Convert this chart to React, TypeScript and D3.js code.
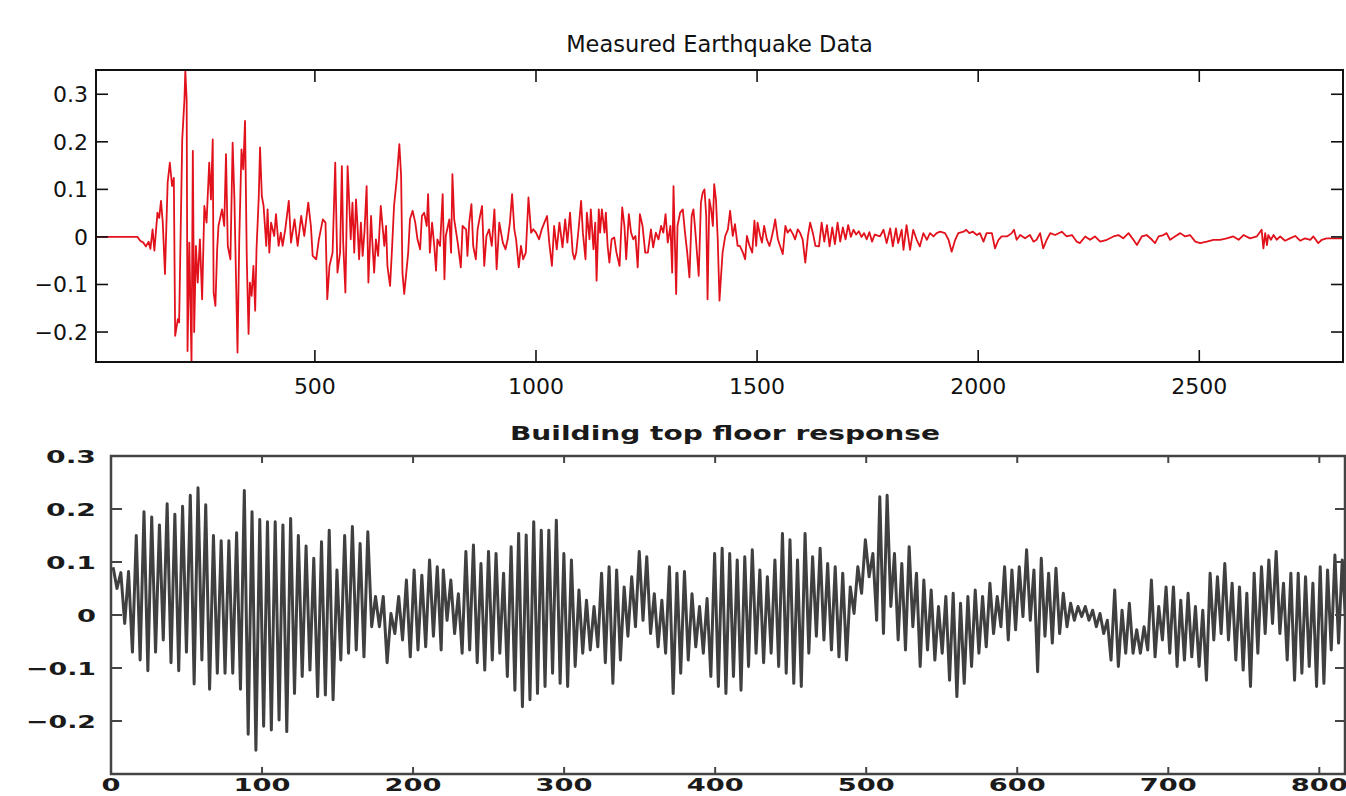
import * as d3 from 'd3';

// Measured ground acceleration, turning points: [sample, value]
const quakeOnset: [number, number][] = [
  [5, 0], [99, 0], [105, -0.008], [112, -0.012], [118, -0.02], [124, -0.01], [128, -0.025], [133, 0.016],
  [137, -0.029], [144, 0.051], [148, 0.04], [152, 0.076], [156, 0.03], [161, -0.078], [167, 0.114],
  [172, 0.156], [177, 0.107], [181, 0.124], [184, -0.208], [190, -0.173], [193, -0.18], [200, 0.205],
  [205, 0.289], [207, 0.349], [210, 0.289], [212, -0.24], [216, -0.012], [221, -0.264], [224, 0.181],
  [227, -0.2], [231, -0.019], [235, -0.096], [240, -0.005], [245, -0.131],
];
const quakeStrong: [number, number][] = [
  [250, 0.065], [255, 0.03], [261, 0.156], [265, 0.079], [269, 0.205], [271, -0.117], [275, -0.145],
  [279, -0.026], [282, 0.023], [290, 0.058], [295, 0.023], [299, 0.174], [303, -0.019], [309, -0.047],
  [314, 0.198], [318, 0.079], [322, -0.103], [325, -0.243], [329, -0.005], [334, 0.184], [338, 0.142],
  [342, 0.244], [346, -0.047], [350, -0.204], [353, -0.096], [357, -0.124], [361, -0.061], [365, -0.155],
  [368, -0.026], [373, 0.083], [376, 0.188], [380, 0.086], [384, 0.065], [390, -0.019], [393, 0.058],
  [397, -0.033], [401, 0.03], [408, 0.002], [412, 0.048], [418, -0.019], [423, 0.009], [427, -0.019],
  [433, 0.016], [441, 0.076], [446, -0.012], [454, 0.037], [461, -0.019], [469, 0.044], [476, 0.002],
  [485, 0.072], [491, 0.023], [495, -0.04], [503, -0.047], [509, -0.005], [518, 0.037], [524, 0.03],
  [528, -0.131], [533, -0.061], [540, -0.033], [546, 0.156],
];
const quakeMid: [number, number][] = [
  [551, -0.075], [557, -0.033], [561, 0.149], [564, -0.012], [569, -0.117], [574, 0.149], [578, 0.065],
  [581, -0.005], [585, 0.072], [589, -0.033], [593, 0.079], [596, 0.03], [600, -0.047], [604, 0.03],
  [608, -0.04], [612, 0.009], [617, 0.107], [621, -0.096], [627, 0.044], [630, -0.012], [634, -0.075],
  [638, -0.005], [643, -0.04], [649, 0.065], [653, 0.023], [657, -0.019], [661, 0.023], [664, -0.061],
  [670, -0.103], [674, -0.033], [679, 0.065], [685, 0.121], [691, 0.195], [695, 0.128], [698, -0.075],
  [702, -0.12], [706, -0.082], [711, -0.033], [715, 0.037], [721, 0.055], [727, 0.03], [732, -0.005],
  [738, -0.026], [742, 0.044], [747, 0.051], [753, 0.023], [756, 0.09], [760, -0.033], [765, 0.03],
  [770, -0.019], [774, -0.071], [777, -0.005], [783, -0.019], [789, 0.09], [793, -0.089], [796, 0.002],
  [804, 0.037], [808, -0.033], [811, 0.132], [815, 0.037], [823, -0.012], [830, -0.064], [834, 0.023],
  [842, 0.016], [845, -0.04], [849, 0.03], [854, 0.069], [858, -0.019], [864, -0.047], [868, 0.016],
  [872, 0.037], [878, 0.065], [883, -0.061], [888, 0.002], [894, 0.016], [900, -0.019], [906, 0.058],
  [911, -0.068], [917, 0.03], [925, -0.012], [931, -0.026], [936, -0.005], [941, 0.03], [946, 0.09],
  [951, 0.016], [955, -0.005], [961, -0.064], [966, -0.019], [971, -0.047], [977, -0.033], [983, 0.083],
  [989, 0.009], [994, 0.016], [1000, 0.009], [1007, -0.005], [1013, 0.016], [1019, 0.03], [1025, 0.044],
  [1030, -0.012], [1036, -0.061], [1041, 0.023], [1047, -0.026], [1053, 0.03], [1060, -0.022],
  [1066, 0.037], [1071, -0.012], [1077, 0.051], [1083, -0.033], [1087, -0.047],
];
const quakeLate: [number, number][] = [
  [1091, -0.033], [1097, 0.023], [1102, 0.076], [1106, 0.009], [1112, -0.047], [1115, 0.051],
  [1121, -0.005], [1124, 0.058], [1130, -0.026], [1134, 0.03], [1137, -0.092], [1142, 0.058],
  [1145, 0.009], [1149, 0.058], [1155, 0.009], [1158, 0.051], [1162, -0.019], [1166, -0.054],
  [1171, -0.005], [1177, -0.001], [1182, -0.033], [1189, -0.061], [1195, 0.062], [1200, 0.023],
  [1204, -0.047], [1210, 0.048], [1215, 0.009], [1220, -0.005], [1225, 0.002], [1230, -0.064],
  [1235, 0.048], [1241, 0.023], [1247, -0.033], [1253, -0.033], [1260, 0.016], [1265, -0.022],
  [1271, 0.009], [1277, -0.005], [1283, 0.023], [1288, 0.009], [1293, 0.048], [1298, -0.012],
  [1304, 0.023], [1308, -0.075], [1311, 0.107], [1317, -0.12], [1320, 0.023], [1326, 0.051],
  [1332, 0.058], [1337, 0.009], [1342, -0.033], [1347, -0.085], [1352, 0.044], [1356, 0.058],
  [1360, 0.016], [1364, -0.033], [1368, -0.082], [1373, 0.072], [1377, 0.093], [1381, 0.1],
  [1385, 0.044], [1388, -0.131], [1392, 0.079], [1396, 0.058], [1400, 0.023], [1403, 0.111],
  [1407, 0.079], [1411, -0.005], [1415, -0.134], [1418, -0.089], [1422, -0.033], [1428, 0.002],
  [1434, 0.016], [1439, 0.055], [1445, 0.002], [1450, 0.027], [1456, -0.019], [1461, -0.019],
  [1468, -0.033], [1473, -0.047], [1477, 0.002], [1483, -0.019], [1489, -0.033], [1494, 0.034],
  [1498, -0.019], [1501, 0.03], [1507, 0.002], [1511, -0.012], [1516, 0.023], [1522, -0.005],
  [1528, -0.019], [1532, -0.005], [1537, 0.016], [1541, 0.037], [1547, -0.005], [1552, -0.019],
  [1558, -0.036], [1564, 0.023], [1569, 0.009], [1575, 0.016], [1581, 0.006], [1586, -0.005],
  [1592, 0.016], [1597, 0.009], [1603, -0.005], [1609, -0.054], [1615, 0.002], [1620, 0.03],
  [1626, 0.009], [1632, -0.019],
];
const quakeTail: [number, number][] = [
  [1640, -0.02], [1646, 0.03], [1652, -0.01], [1658, 0.025], [1664, -0.02], [1670, 0.02], [1676, -0.015],
  [1682, 0.03], [1688, -0.01], [1694, 0.02], [1700, -0.005], [1706, 0.025], [1712, 0], [1718, 0.015],
  [1724, 0.005], [1730, 0.012], [1736, 0], [1742, 0.008], [1748, -0.005], [1754, 0.01], [1760, -0.01],
  [1766, 0.005], [1778, 0.001], [1786, 0.015], [1793, -0.013], [1801, 0.018], [1807, -0.02], [1814, 0.018],
  [1819, -0.013], [1827, 0.015], [1831, -0.027], [1838, 0.025], [1846, -0.027], [1853, 0.015],
  [1861, -0.006], [1868, -0.02], [1876, 0.008], [1884, -0.006], [1891, 0.008], [1899, 0.001],
  [1906, 0.008], [1914, 0.011], [1925, 0.008], [1933, -0.006], [1940, -0.031], [1948, -0.006],
  [1955, 0.008], [1967, 0.011], [1973, 0.015], [1980, 0.008], [1988, 0.011], [1997, 0.004], [2004, 0.008],
  [2012, -0.01], [2019, 0.008], [2031, 0.008], [2038, -0.024], [2046, -0.006], [2053, 0.001],
  [2065, 0.001], [2076, 0.008], [2081, 0.015], [2087, -0.006], [2095, 0.004], [2106, -0.003],
  [2117, 0.004], [2125, -0.01], [2132, -0.006], [2140, 0.008], [2147, -0.024], [2155, -0.006],
  [2163, 0.008], [2174, 0.004], [2189, 0.011], [2200, 0.001], [2212, 0.004], [2223, -0.01], [2230, -0.013],
  [2242, 0.001], [2253, -0.006], [2264, 0.001], [2276, -0.01], [2291, -0.006], [2306, 0.001],
  [2317, 0.004], [2328, -0.003], [2340, 0.008], [2351, -0.006], [2359, -0.017], [2370, 0.001],
  [2381, 0.004], [2393, -0.006], [2400, -0.013], [2408, 0.001], [2419, 0.004], [2426, 0.008],
  [2434, -0.006], [2445, 0.001], [2457, 0.008], [2468, 0.001], [2479, 0.004], [2491, -0.01],
  [2502, -0.013], [2517, -0.01], [2532, -0.006], [2547, -0.006], [2562, -0.003], [2577, 0.001],
  [2589, -0.006], [2600, 0.004], [2615, -0.003], [2630, 0.001], [2641, 0.015], [2645, -0.024],
  [2649, 0.008], [2653, -0.017], [2656, 0.004], [2662, -0.006], [2668, 0.004], [2675, -0.006],
  [2683, 0.001], [2694, -0.008], [2705, -0.003], [2717, 0.002], [2728, -0.008], [2739, -0.003],
  [2751, -0.006], [2758, 0.001], [2769, -0.013], [2777, -0.006], [2788, -0.003], [2803, -0.003],
  [2825, -0.003],
];

// Top floor response: one peak and one trough per oscillation stroke, in three stretches
const floorStart = [1.4, 220, 509];
const floorPeriod = [5.11, 4.99, 4.86];
const floorTops = [
  [0.09, 0.08, 0.082, 0.15, 0.195, 0.185, 0.17, 0.21, 0.19, 0.205, 0.226, 0.24, 0.208, 0.15, 0.14, 0.14,
    0.155, 0.235, 0.195, 0.18, 0.176, 0.176, 0.17, 0.182, 0.15, 0.13, 0.107, 0.138, 0.16, 0.085, 0.15,
    0.167, 0.135, 0.157, 0.035, 0.035, 0.003, 0.035, 0.066, 0.085, 0.075, 0.104, 0.091],
  [0.085, 0.066, 0.04, 0.12, 0.132, 0.097, 0.12, 0.116, 0.079, 0.129, 0.154, 0.151, 0.176, 0.16, 0.16,
    0.179, 0.116, 0.104, 0.047, 0.028, 0.016, 0.079, 0.091, 0.085, 0.053, 0.072, 0.12, 0.11, 0.04, 0.028,
    0.091, 0.079, 0.082, 0.04, 0.016, 0.031, 0.116, 0.126, 0.116, 0.104, 0.11, 0.123, 0.085, 0.072,
    0.104, 0.154, 0.142, 0.104, 0.154, 0.11, 0.126, 0.097, 0.091, 0.079, 0.053, 0.091, 0.142, 0.116],
  [0.223, 0.226, 0.116, 0.097, 0.129, 0.079, 0.066, 0.047, 0.016, 0.035, 0.041, 0.022, 0.035, 0.047,
    0.035, 0.06, 0.035, 0.091, 0.085, 0.091, 0.123, 0.085, 0.107, 0.079, 0.088, 0.041, 0.022, 0.016,
    0.016, 0.009, 0.003, -0.01, 0.047, 0.009, 0.022, -0.028, -0.022, 0.066, 0.016, 0.053, 0.053, 0.028,
    0.041, 0.016, 0.009, 0.079, 0.072, 0.097, 0.06, 0.053, 0.041, 0.079, 0.091, 0.104, 0.12, 0.06, 0.079,
    0.079, 0.072, 0.06, 0.091, 0.085, 0.113, 0.104],
];
const floorBottoms = [
  [0.05, -0.016, -0.07, -0.085, -0.105, -0.07, -0.047, -0.09, -0.105, -0.07, -0.13, -0.085, -0.14, -0.11,
    -0.11, -0.11, -0.14, -0.225, -0.255, -0.21, -0.217, -0.198, -0.22, -0.148, -0.116, -0.104, -0.154,
    -0.151, -0.16, -0.085, -0.072, -0.066, -0.079, -0.022, -0.022, -0.09, -0.035, -0.047, -0.079, -0.066,
    -0.06, -0.04, -0.066],
  [-0.01, -0.035, -0.072, -0.066, -0.09, -0.104, -0.085, -0.072, -0.116, -0.142, -0.173, -0.16, -0.148,
    -0.135, -0.11, -0.129, -0.135, -0.097, -0.072, -0.066, -0.06, -0.09, -0.129, -0.085, -0.04, -0.022,
    -0.01, -0.035, -0.06, -0.072, -0.148, -0.11, -0.085, -0.06, -0.072, -0.116, -0.135, -0.148, -0.116,
    -0.142, -0.097, -0.072, -0.09, -0.072, -0.097, -0.11, -0.129, -0.135, -0.072, -0.04, -0.047, -0.066,
    -0.079, -0.085, 0.003, 0.041, 0.072, -0.01],
  [-0.035, 0.016, -0.047, -0.066, -0.022, -0.097, -0.066, -0.085, -0.072, -0.123, -0.154, -0.129, -0.097,
    -0.072, -0.06, -0.035, -0.022, -0.047, -0.028, -0.003, -0.01, -0.107, -0.04, -0.053, -0.035, -0.022,
    -0.01, -0.003, -0.01, -0.022, -0.035, -0.085, -0.097, -0.072, -0.072, -0.072, -0.066, -0.079, -0.047,
    -0.072, -0.097, -0.085, -0.079, -0.097, -0.123, -0.047, -0.035, -0.047, -0.085, -0.104, -0.135,
    -0.072, -0.035, -0.016, -0.035, -0.085, -0.123, -0.11, -0.097, -0.135, -0.129, -0.066, -0.053, -0.022],
];

const topXTicks = [500, 1000, 1500, 2000, 2500];
const topYTicks = [-0.2, -0.1, 0, 0.1, 0.2, 0.3];
const botXTicks = [0, 100, 200, 300, 400, 500, 600, 700, 800];
const botYTicks = [-0.2, -0.1, 0, 0.1, 0.2, 0.3];

const W = 1346;
const H = 796;

const fmt = (v: number) => (v < 0 ? '\u2212' + d3.format('.1f')(-v) : v === 0 ? '0' : d3.format('.1f')(v));

export default function App() {
  // top panel
  const xT = d3.scaleLinear().domain([5, 2825]).range([96, 1343]);
  const yT = d3.scaleLinear().domain([-0.263, 0.351]).range([362, 70]);
  const quake = [...quakeOnset, ...quakeStrong, ...quakeMid, ...quakeLate, ...quakeTail];
  const quakeLine = d3.line<[number, number]>().x(d => xT(d[0])).y(d => yT(d[1]));

  // bottom panel
  const xB = d3.scaleLinear().domain([0, 817]).range([111, 1345]);
  const yB = d3.scaleLinear().domain([-0.3, 0.3]).range([774, 456]);
  const floor: [number, number][] = [];
  floorTops.forEach((tops, s) => {
    tops.forEach((top, i) => {
      const t = floorStart[s] + i * floorPeriod[s];
      floor.push([t, top]);
      floor.push([t + floorPeriod[s] / 2, floorBottoms[s][i]]);
    });
  });
  const floorLine = d3.line<[number, number]>().x(d => xB(d[0])).y(d => yB(d[1]));

  const topFont = { fontFamily: "'DejaVu Sans', sans-serif", fontSize: 22, fill: '#111' };
  const botFont = { fontFamily: "'DejaVu Sans', sans-serif", fontSize: 18, fontWeight: 700, fill: '#1a1a1a' };
  const botYWidth = (s: string) => (s === '0' ? 19 : s.length === 3 ? 50 : 70);
  const botXWidth = (s: string) => (s === '0' ? 19 : 57);

  return (
    <svg width={W} height={H} style={{ position: 'absolute', left: 0, top: 0, background: '#fff' }}>
      <defs>
        <clipPath id="clipTop">
          <rect x={96} y={70} width={1247} height={292} />
        </clipPath>
        <clipPath id="clipBot">
          <rect x={111} y={456} width={1234} height={318} />
        </clipPath>
      </defs>

      {/* ---------- Measured Earthquake Data ---------- */}
      <text x={719.5} y={52} textAnchor="middle" {...topFont} fontSize={22.5}>Measured Earthquake Data</text>
      <path d={quakeLine(quake) || ''} fill="none" stroke="#e2121c" strokeWidth={1.8}
        strokeLinejoin="round" clipPath="url(#clipTop)" />
      <rect x={96} y={70} width={1247} height={292} fill="none" stroke="#111" strokeWidth={2} />
      {topXTicks.map(v => (
        <g key={v}>
          <line x1={xT(v)} x2={xT(v)} y1={362} y2={350} stroke="#111" strokeWidth={1.6} />
          <line x1={xT(v)} x2={xT(v)} y1={70} y2={82} stroke="#111" strokeWidth={1.6} />
          <text x={xT(v)} y={394} textAnchor="middle" {...topFont}>{v}</text>
        </g>
      ))}
      {topYTicks.map(v => (
        <g key={v}>
          <line x1={96} x2={108} y1={yT(v)} y2={yT(v)} stroke="#111" strokeWidth={1.6} />
          <line x1={1343} x2={1331} y1={yT(v)} y2={yT(v)} stroke="#111" strokeWidth={1.6} />
          <text x={88} y={yT(v) + 8} textAnchor="end" {...topFont}>{fmt(v)}</text>
        </g>
      ))}

      {/* ---------- Building top floor response ---------- */}
      <text x={510} y={440} textLength={430} lengthAdjust="spacingAndGlyphs" {...botFont} fontSize={20}>
        Building top floor response
      </text>
      <path d={floorLine(floor) || ''} fill="none" stroke="#404040" strokeWidth={3}
        strokeLinejoin="round" clipPath="url(#clipBot)" />
      <rect x={111} y={456} width={1234} height={318} fill="none" stroke="#444" strokeWidth={2.5} />
      {botXTicks.map(v => {
        const s = String(v);
        const w = botXWidth(s);
        return (
          <g key={v}>
            <line x1={xB(v)} x2={xB(v)} y1={774} y2={767} stroke="#444" strokeWidth={2} />
            <line x1={xB(v)} x2={xB(v)} y1={456} y2={463} stroke="#444" strokeWidth={2} />
            <text x={xB(v) - w / 2} y={791} textLength={w} lengthAdjust="spacingAndGlyphs" {...botFont}
              fontSize={17}>{s}</text>
          </g>
        );
      })}
      {botYTicks.map(v => {
        const s = fmt(v);
        const w = botYWidth(s);
        return (
          <g key={v}>
            <line x1={111} x2={122} y1={yB(v)} y2={yB(v)} stroke="#444" strokeWidth={2} />
            <line x1={1345} x2={1335} y1={yB(v)} y2={yB(v)} stroke="#444" strokeWidth={2} />
            <text x={96 - w} y={yB(v) + 7} textLength={w} lengthAdjust="spacingAndGlyphs" {...botFont}>{s}</text>
          </g>
        );
      })}
    </svg>
  );
}
